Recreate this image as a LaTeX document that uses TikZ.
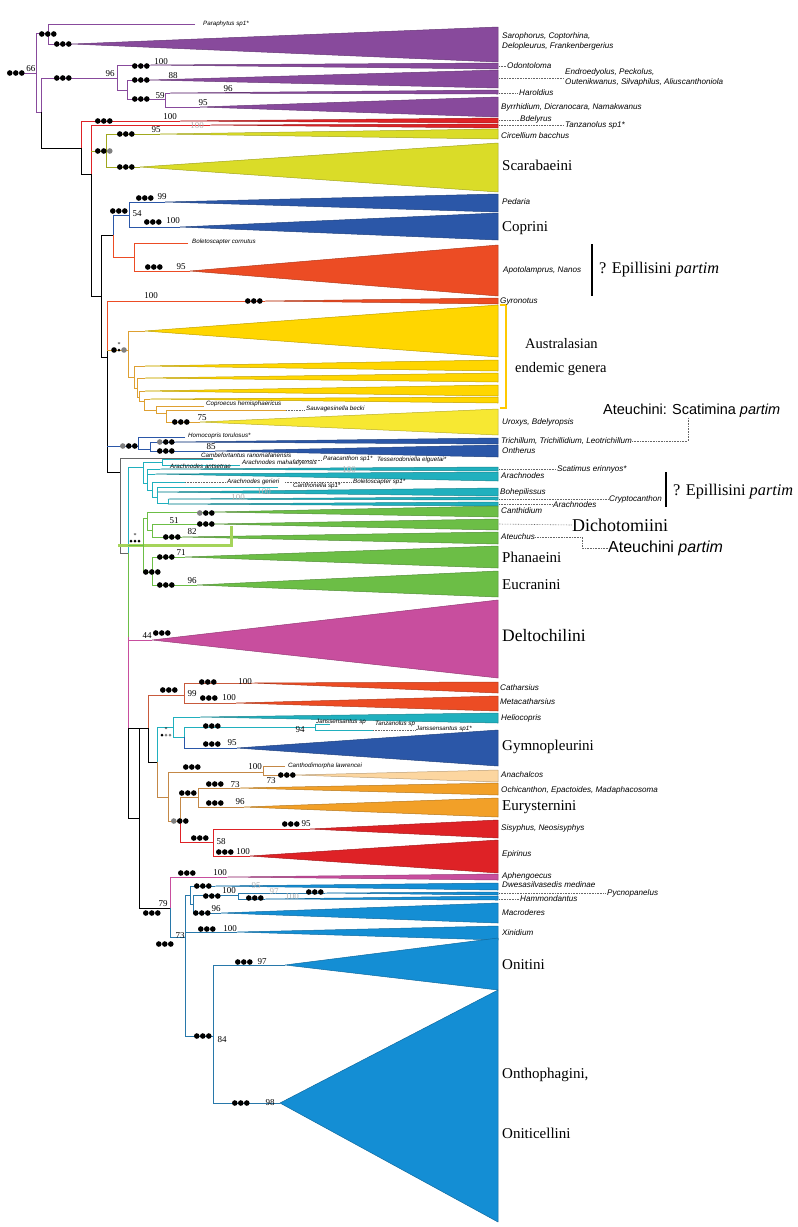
\documentclass[tikz,border=0pt]{standalone}
\usepackage{fontspec}
\setmainfont{Liberation Serif}
\setsansfont{Liberation Sans}
\usetikzlibrary{positioning}

\definecolor{purp}{RGB}{136,74,156}
\definecolor{redd}{RGB}{222,34,38}
\definecolor{oliv}{RGB}{218,220,40}
\definecolor{olivb}{RGB}{160,168,30}
\definecolor{blu}{RGB}{43,87,168}
\definecolor{oran}{RGB}{236,76,36}
\definecolor{goldy}{RGB}{255,214,0}
\definecolor{gbr}{RGB}{222,160,50}
\definecolor{yel}{RGB}{247,232,50}
\definecolor{tcy}{RGB}{32,176,190}
\definecolor{gren}{RGB}{108,190,70}
\definecolor{lgrn}{RGB}{165,212,90}
\definecolor{mag}{RGB}{200,78,158}
\definecolor{obr}{RGB}{200,90,60}
\definecolor{brn}{RGB}{196,136,70}
\definecolor{org}{RGB}{242,160,40}
\definecolor{lorg}{RGB}{252,214,160}
\definecolor{sky}{RGB}{20,142,212}
\definecolor{sbl}{RGB}{40,120,170}

\begin{document}
\begin{tikzpicture}[x=1pt, y=-1pt,
    br/.style={line width=0.8pt},
    tri/.style={line width=0.5pt, line join=round},
    lab/.style={anchor=west, inner sep=0pt, font=\sffamily\itshape\fontsize{8.1}{9}\selectfont},
    sml/.style={anchor=west, inner sep=0pt, font=\sffamily\itshape\fontsize{6.2}{7}\selectfont},
    tribe/.style={anchor=west, inner sep=0pt, font=\fontsize{15}{17}\selectfont},
    bsv/.style={inner sep=0pt, font=\fontsize{9}{10}\selectfont},
    faint/.style={bsv, text=black!30},
    lead/.style={densely dotted, line width=0.6pt, black!60},
    bar/.style={line width=1.2pt}
]
\useasboundingbox (0,0) rectangle (798,1227);

% Triangoli dei cladi
\foreach \ax/\ay/\ya/\yb/\c in {
    72/44/27/62/purp, 150/65/63/69/purp, 150/80/70/88/purp, 170/93/90/94/purp,
    200/107/97/117/purp, 180/121/118/123/redd, 210/125/124/128/redd,
    160/134/129/139/oliv, 140/167/143/192/oliv, 165/202/194/212/blu,
    180/227/213/240/blu, 190/271/245/296/oran, 265/301/298/304/oran,
    145/331/305/357/goldy, 145/366/360/371/goldy, 145/378/373/382/goldy,
    145/391/385/396/goldy, 150/399/397/403/goldy, 200/422/409/435/yel,
    175/442/438/444/blu, 215/451/445/457/blu,
    160/469/467/471/tcy, 155/474/472/481/tcy, 157/492/488/496/tcy,
    168/499/497/500/tcy, 168/504/502/506/tcy,
    213/512/506/517/gren, 213/524/519/530/gren, 182/537/532/544/gren,
    185/557/546/568/gren, 197/585/571/597/gren, 152/640/600/678/mag,
    252/683/682/693/oran, 236/703/696/711/oran, 200/717/713/723/tcy,
    237/748/730/766/blu, 295/775/770/782/lorg, 240/788/783/795/org,
    244/807/798/817/org, 310/829/820/838/redd, 250/856/840/873/redd,
    227/877/874/880/mag, 215/886/883/890/sky, 325/893/892/895/sky,
    265/899/896/900/sky, 221/913/903/923/sky, 237/932/926/940/sky,
    285/965/938/990/sky, 280/1103/990/1222/sky}
  \filldraw[tri, fill=\c, draw=\c!75!black] (\ax,\ay) -- (498,\ya) -- (498,\yb) -- cycle;

% Rami: gruppo viola
\draw[br,purp] (23,73) -- (36,73);
\draw[br,purp] (36,33) -- (36,112) -- (41,112);
\draw[br,purp] (36,33) -- (48,33);
\draw[br,purp] (195,24) -| (48,44) -- (72,44);
\draw[br,purp] (41,112) -- (41,78) -- (117,78);
\draw[br,purp] (150,65) -| (117,90) -- (127,90);
\draw[br,purp] (150,80) -| (127,99) -- (165,99);
\draw[br,purp] (170,93) -| (165,107) -- (200,107);

% Spina dorsale superiore
\draw[br] (41,112) -- (41,148) -- (81,148);
\draw[br,redd] (81,148) -- (81,121) -- (180,121);
\draw[br] (81,148) -- (81,174) -- (91,174);
\draw[br,redd] (91,174) -- (91,125) -- (210,125);
\draw[br,olivb] (91,151) -- (106,151);
\draw[br,olivb] (160,134) -| (106,167) -- (140,167);
\draw[br] (91,174) -- (91,296) -- (101,296);
\draw[br] (101,235) -- (101,357) -- (107,357);
\draw[br] (101,235) -- (113,235);
\draw[br,blu] (113,235) -- (113,215) -- (129,215);
\draw[br,blu] (165,202) -| (129,227) -- (180,227);
\draw[br,oran] (113,235) -- (113,257) -- (134,257);
\draw[br,oran] (188,243) -| (134,271) -- (190,271);
\draw[br,oran] (265,301) -| (107,350);
\draw[br] (107,350) -- (107,472) -- (120,472);

% Australasia
\draw[br,gbr] (107,350) -- (128,350);
\draw[br,gbr] (145,331) -| (128,377) -- (134,377);
\draw[br,gbr] (145,366) -| (134,388) -- (137,388);
\draw[br,gbr] (145,378) -| (137,397) -- (139,397);
\draw[br,gbr] (145,391) -| (139,401) -- (144,401);
\draw[br,gbr] (150,399) -| (144,410) -- (156,410);
\draw[br,gbr] (204,406) -| (156,413) -- (166,413);
\draw[br,gbr] (286,410) -| (166,422) -- (200,422);
\draw[line width=1.5pt,goldy!85!orange] (500,305) -- (506,305) -- (506,408) -- (500,408);

% Ontherus e Scatimina
\draw[br,blu] (107,446) -- (138,446);
\draw[br,blu] (185,437) -| (138,449) -- (150,449);
\draw[br,blu] (175,442) -| (150,451) -- (215,451);
\draw[br,black!60] (213,458) -| (120,553) -- (128,553);

% Gruppo ciano
\draw[br,tcy] (128,553) -- (128,467) -- (143,467);
\draw[br,tcy] (143,462) -- (143,483) -- (147,483);
\draw[br,tcy] (213,459) -| (162,465) -- (240,465);
\draw[br,tcy] (143,462) -- (162,462);
\draw[br,tcy] (160,469) -| (147,490) -- (152,490);
\draw[br,tcy] (147,474) -- (155,474);
\draw[br,tcy] (185,482) -| (152,497) -- (157,497);
\draw[br,tcy] (278,487) -| (157,503) -- (168,503);
\draw[br,tcy] (168,499) -- (168,504);

% Gruppo verde
\draw[line width=3pt,lgrn] (118,545) -- (231,545) -- (231,526);
\draw[br,gren] (128,553) -- (128,637);
\draw[br,gren] (128,545) -- (143,545);
\draw[br,gren] (143,518) -- (143,572) -- (152,572);
\draw[br,gren] (143,518) -- (147,518);
\draw[br,gren] (213,512) -| (147,530) -- (152,530);
\draw[br,gren] (213,524) -| (152,537) -- (182,537);
\draw[br,gren] (185,557) -| (152,585) -- (197,585);

% Deltochilini e parte inferiore
\draw[br,mag] (128,637) -- (128,728);
\draw[br,mag] (128,640) -- (152,640);
\draw[br] (128,728) -- (148,728);
\draw[br] (128,728) -- (128,818) -- (139,818);
\draw[br] (139,728) -- (139,908) -- (170,908);
\draw[br,obr] (148,728) -- (148,695) -- (184,695);
\draw[br,obr] (252,683) -| (184,703) -- (236,703);
\draw[br] (148,728) -- (148,762) -- (157,762);
\draw[br,tcy] (157,762) -- (157,727) -- (173,727);
\draw[br,tcy] (200,717) -| (173,737) -- (184,737);
\draw[br,tcy] (184,737) -- (184,727) -- (315,727);
\draw[br,tcy] (330,724) -| (315,730) -- (373,730);
\draw[br,blu] (184,737) -- (184,748) -- (237,748);
\draw[br,brn] (157,762) -- (157,797) -- (168,797);
\draw[br,brn] (263,772) -| (168,821) -- (180,821);
\draw[br,brn] (285,766) -| (263,775) -- (295,775);
\draw[br,brn] (180,821) -- (180,797) -- (198,797);
\draw[br,brn] (240,788) -| (198,807) -- (244,807);
\draw[br,redd] (180,821) -- (180,842) -- (213,842);
\draw[br,redd] (310,829) -| (213,856) -- (250,856);

% Onitini e affini
\draw[br,mag] (170,908) -- (170,877) -- (227,877);
\draw[br,sbl] (170,908) -- (170,937) -- (185,937);
\draw[br,sbl] (185,895) -- (185,1036) -- (213,1036);
\draw[br,sbl] (185,895) -- (190,895);
\draw[br,sbl] (215,886) -| (190,904) -- (193,904);
\draw[br,sbl] (238,895) -| (193,913) -- (221,913);
\draw[br,sbl] (325,893) -| (238,899) -- (265,899);
\draw[br,sbl] (185,932) -- (237,932);
\draw[br,sbl] (285,965) -| (213,1103) -- (280,1103);

% Supporti
\foreach \x/\y in {7/73, 39/34, 54/44, 54/78, 132/66, 132/80, 132/99, 95/121,
    117/134, 117/167, 110/211, 136/198, 144/222, 145/267, 245/301, 172/422,
    157/451, 197/524, 163/537, 157/557, 157/585, 143/572, 153/633, 160/690,
    199/682, 200/698, 203/726, 203/744, 183/767, 278/775, 179/793, 206/784,
    206/803, 191/838, 282/824, 216/852, 143/913, 178/873, 194/886, 203/896,
    306/892, 246/898, 193/913, 156/944, 198/929, 235/962, 194/1036, 232/1103}
  \fill (\x+2.8,\y) circle (2.8pt) (\x+8.8,\y) circle (2.8pt) (\x+14.8,\y) circle (2.8pt);
\foreach \x/\y in {120/446, 157/442, 197/513, 171/821}
  {\fill[gray] (\x+2.8,\y) circle (2.8pt);
   \fill (\x+8.8,\y) circle (2.8pt) (\x+14.8,\y) circle (2.8pt);}
\fill (97.8,151) circle (2.8pt) (103.8,151) circle (2.8pt);
\fill[gray] (109.8,151) circle (2.8pt);
\fill (114,350) circle (2.8pt) (119,350) circle (1.5pt);
\fill[gray] (124,350) circle (2.8pt);
\node[inner sep=0pt,font=\fontsize{6}{6}\selectfont] (st1) at (119,345) {*};
\fill (131,541) circle (1.5pt) (135,541) circle (1.5pt) (139,541) circle (1.5pt);
\node[inner sep=0pt,font=\fontsize{6}{6}\selectfont] (st2) at (135,536) {*};
\fill (162,735) circle (1.5pt);
\fill[gray] (166,735) circle (1.5pt) (170,735) circle (1.5pt);
\node[inner sep=0pt,font=\fontsize{6}{6}\selectfont] (st3) at (166,730) {*};

% Valori di bootstrap
\foreach \x/\y/\t [count=\i] in {31/69/66, 110/74/96, 161/62/100, 173/76/88, 160/96/59,
    228/89/96, 203/103/95, 170/117/100, 156/130/95, 162/197/99, 137/214/54,
    173/221/100, 181/267/95, 151/296/100, 202/418/75, 211/447/85, 174/521/51,
    192/532/82, 181/553/71, 192/581/96, 147/636/44, 245/682/100, 192/694/99,
    229/698/100, 300/730/94, 232/743/95, 255/767/100, 271/781/73, 235/785/73,
    240/802/96, 306/824/95, 221/842/58, 243/852/100, 163/904/79, 220/873/100,
    229/891/100, 216/909/96, 180/936/73, 230/929/100, 262/962/97, 222/1040/84,
    270/1103/98}
  \node[bsv] (bs\i) at (\x,\y) {\t};
\foreach \x/\y/\t [count=\i] in {197/126/100, 349/470/100, 264/492/100,
    238/498/100, 256/886/95, 274/892/97, 292/897/100}
  \node[faint] (fb\i) at (\x,\y) {\t};

% Etichette dei terminali
\foreach \x/\y/\t [count=\i] in {502/36/{Sarophorus, Coptorhina,},
    502/46/{Delopleurus, Frankenbergerius}, 507/66/Odontoloma,
    565/72/{Endroedyolus, Peckolus,}, 565/82/{Outenikwanus, Silvaphilus, Aliuscanthoniola},
    519/93/Haroldius, 501/107/{Byrrhidium, Dicranocara, Namakwanus},
    520/119/Bdelyrus, 565/125/Tanzanolus sp1*, 501/136/Circellium bacchus,
    502/202/Pedaria, 503/270/{Apotolamprus, Nanos}, 500/302/Gyronotus,
    502/422/{Uroxys, Bdelyropsis}, 501/441/{Trichillum, Trichillidium, Leotrichillum},
    502/451/Ontherus, 557/469/Scatimus erinnyos*, 501/476/Arachnodes,
    500/492/Bohepilissus, 609/499/Cryptocanthon, 553/505/Arachnodes,
    501/511/Canthidium, 501/537/Ateuchus, 500/688/Catharsius,
    500/702/Metacatharsius, 501/718/Heliocopris, 501/775/Anachalcos,
    501/790/{Ochicanthon, Epactoides, Madaphacosoma}, 501/828/{Sisyphus, Neosisyphys},
    502/854/Epirinus, 502/876/Aphengoecus, 502/885/Dwesasilvasedis medinae,
    607/893/Pycnopanelus, 520/899/Hammondantus, 502/913/Macroderes, 502/933/Xinidium}
  \node[lab] (tx\i) at (\x,\y) {\t};

% Etichette interne
\foreach \x/\y/\t [count=\i] in {203/24/Paraphytus sp1*, 192/242/Boletoscapter cornutus,
    206/404/Coproecus hemisphaericus, 306/409/Sauvagesinella becki,
    188/436/Homocopris torulosus*, 201/455/Cambefortantus ranomafanensis,
    323/459/Paracanthon sp1*, 377/460/Tesserodoniella elguetai*,
    242/463/Arachnodes mahafalyensis, 170/466/Arachnodes antsetrae,
    227/482/Arachnodes gerieri, 353/482/Boletoscapter sp1*,
    293/486/Canthonella sp1*, 316/722/Janssensantus sp, 375/724/Tanzanolus sp,
    416/729/Janssensantus sp1*, 288/766/Canthodimorpha lawrencei}
  \node[sml] (in\i) at (\x,\y) {\t};

% Linee tratteggiate
\draw[lead] (499,66) -- (506,66);
\draw[lead] (499,78) -- (564,78);
\draw[lead] (499,93) -- (518,93);
\draw[lead] (499,120) -- (519,120);
\draw[lead] (499,125) -- (564,125);
\draw[lead] (286,410) -- (305,410);
\draw[lead] (297,460) -- (322,460);
\draw[lead] (185,482) -- (226,482);
\draw[lead] (285,482) -- (352,482);
\draw[lead] (499,469) -- (556,469);
\draw[lead] (499,499) -- (608,499);
\draw[lead] (499,504) -- (552,504);
\draw[lead] (373,730) -- (415,730);
\draw[lead] (499,893) -- (606,893);
\draw[lead] (499,899) -- (519,899);

% Tribu
\node[tribe] (scara) at (502,165) {Scarabaeini};
\node[tribe] (copri) at (502,228) {Coprini};
\node[tribe,font=\fontsize{16.3}{18}\selectfont] (epil1) at (599,270) {? Epillisini \textit{partim}};
\draw[bar] (592,244) -- (592,296);
\node[tribe,font=\fontsize{14.5}{16}\selectfont] (aus1) at (525,344) {Australasian};
\node[tribe,font=\fontsize{14.5}{16}\selectfont] (aus2) at (515,369) {endemic genera};
\node[anchor=west,inner sep=0pt,font=\sffamily\fontsize{14.5}{16}\selectfont] (scat) at (603,411) {Ateuchini: Scatimina \textit{partim}};
\draw[lead] (tx15.east) -- (688,441) -- (scat.south -| 688,0);
\node[tribe,font=\fontsize{16.3}{18}\selectfont] (epil2) at (673,492) {? Epillisini \textit{partim}};
\draw[bar] (666,472) -- (666,507);
\node[tribe,font=\fontsize{18}{20}\selectfont] (dicho) at (572,525) {Dichotomiini};
\draw[lead] (499,524) -- (dicho.west);
\node[anchor=west,inner sep=0pt,font=\sffamily\fontsize{16}{18}\selectfont] (ateu) at (608,548) {Ateuchini \textit{partim}};
\draw[lead] (tx23.east) -- (582,537) -- (582,548) -- (ateu.west);
\node[tribe] (phan) at (502,557) {Phanaeini};
\node[tribe] (eucr) at (502,585) {Eucranini};
\node[tribe,font=\fontsize{17.5}{19}\selectfont] (delt) at (502,636) {Deltochilini};
\node[tribe] (gymn) at (502,747) {Gymnopleurini};
\node[tribe] (eury) at (502,807) {Eurysternini};
\node[tribe] (onit) at (502,965) {Onitini};
\node[tribe] (onth) at (502,1075) {Onthophagini,};
\node[tribe] (onic) at (502,1133) {Oniticellini};
\end{tikzpicture}
\end{document}
